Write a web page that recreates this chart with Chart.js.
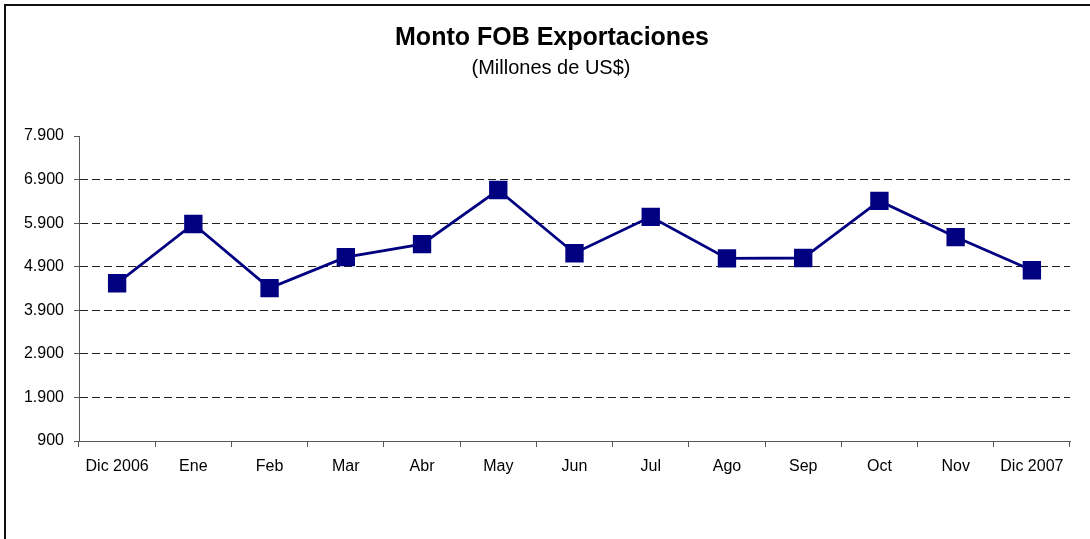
<!DOCTYPE html>
<html>
<head>
<meta charset="UTF-8">
<title>Monto FOB Exportaciones</title>
<script src="https://cdn.jsdelivr.net/npm/chart.js@4.4.0/dist/chart.umd.min.js"></script>
<style>
body { margin:0; background:#fff; }
#wrap { position:absolute; left:0; top:0; width:1090px; height:539px; }
#frame { position:absolute; left:4px; top:4px; width:1090px; height:540px; border-left:2px solid #111; border-top:2px solid #111; pointer-events:none; }
</style>
</head>
<body>
<div id="wrap">
<canvas id="myChart" width="1090" height="539"></canvas>
<div id="frame"></div>
</div>
<script>
// datos (millones de US$)
var meses = ["Dic 2006","Ene","Feb","Mar","Abr","May","Jun","Jul","Ago","Sep","Oct","Nov","Dic 2007"];
var montos = [4520, 5880, 4410, 5120, 5420, 6660, 5210, 6045, 5090, 5100, 6410, 5580, 4820];
var yMin = 900, yMax = 7900, yPaso = 1000;
var titulo = 'Monto FOB Exportaciones';
var subtitulo = '(Millones de US$)';

function fmt(v) { // separador de miles con punto
	return String(v).replace(/\B(?=(\d{3})+(?!\d))/g, ".");
}

var fuente = 'Liberation Sans, Arial, sans-serif';

// titulo y subtitulo dibujados a mano para centrarlos como en el original
var titulos = {
	id: 'titulos',
	afterDraw: function(chart) {
		var c = chart.ctx;
		c.save();
		c.fillStyle = '#000';
		c.textAlign = 'center';
		c.textBaseline = 'middle';
		c.font = 'bold 25px ' + fuente;
		c.fillText(titulo, 552, 38);
		c.font = '20px ' + fuente;
		c.fillText(subtitulo, 551, 68);
		c.restore();
	}
};

var ctx = document.getElementById('myChart').getContext('2d');
var myChart = new Chart(ctx, {
	type: 'line',
	data: {
		labels: meses,
		datasets: [{
			data: montos,
			borderColor: '#000080',
			backgroundColor: '#000080',
			borderWidth: 2.8,
			pointStyle: 'rect',
			pointRadius: 11,
			pointHoverRadius: 11,
			tension: 0
		}]
	},
	options: {
		responsive: false,
		animation: false,
		layout: { padding: { left: 0, right: 20, top: 136, bottom: 64 } },
		plugins: {
			legend: { display: false },
			tooltip: { enabled: false },
			title: { display: false }
		},
		scales: {
			x: {
				offset: true,
				afterFit: function(scale) { scale.height = 34; },
				grid: { offset: true, drawOnChartArea: false, tickLength: 6, color: '#555' },
				border: { color: '#555', width: 1 },
				ticks: { color: '#000', padding: 10, maxRotation: 0, autoSkip: false,
					font: { family: fuente, size: 16 } }
			},
			y: {
				min: yMin,
				max: yMax,
				afterFit: function(scale) { scale.width = 79; },
				grid: {
					tickLength: 5,
					color: function(c) {
						if (c.tick && (c.tick.value == yMin || c.tick.value == yMax)) return 'rgba(0,0,0,0)';
						return '#222';
					},
					tickColor: '#555',
					tickBorderDash: []
				},
				border: { color: '#555', width: 1, dash: [8, 4] },
				ticks: {
					stepSize: yPaso,
					color: '#000',
					padding: 10,
					font: { family: fuente, size: 16 },
					callback: function(v) { return fmt(v); }
				}
			}
		}
	},
	plugins: [titulos]
});
</script>
</body>
</html>
